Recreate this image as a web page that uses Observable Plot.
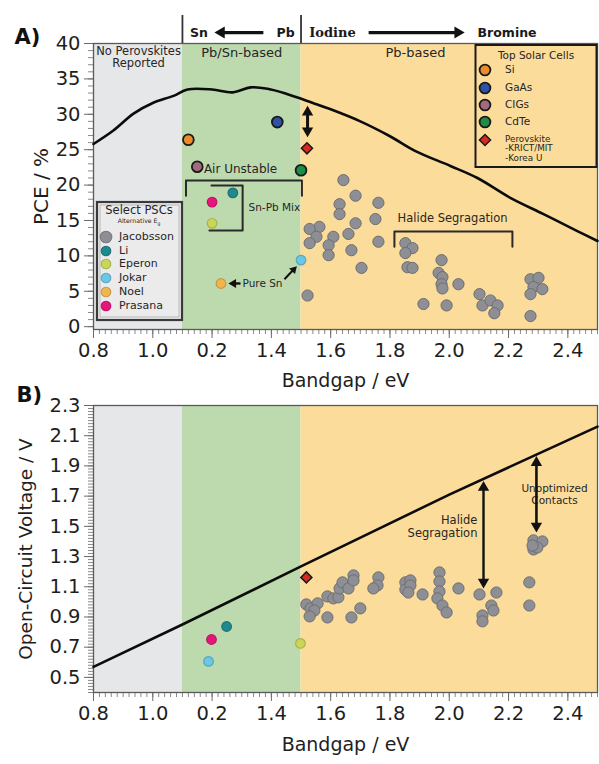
<!DOCTYPE html>
<html><head><meta charset="utf-8">
<script src="https://cdn.jsdelivr.net/npm/d3@7"></script>
<script src="https://cdn.jsdelivr.net/npm/@observablehq/plot@0.6"></script>
<style>
body{margin:0;background:#fff;}
#wrap{position:relative;width:599px;height:764px;overflow:hidden;}
#wrap svg{position:absolute;left:0;overflow:visible;}
</style></head><body><div id="wrap"></div>
<script>
// ---------- data ----------
const xTicks = [0.8, 1.0, 1.2, 1.4, 1.6, 1.8, 2.0, 2.2, 2.4];
const xTickLabels = ["0.8", "1.0", "0.2", "1.4", "1.6", "1.8", "2.0", "2.2", "2.4"];
const pceTicks = [0, 5, 10, 15, 20, 25, 30, 35, 40];
const vocTicks = [0.5, 0.7, 0.9, 1.1, 1.3, 1.5, 1.7, 1.9, 2.1, 2.3];

const regionStart = [0.8, 1.1, 1.5];
const regionEnd = [1.1, 1.5, 2.5];
const regionLabels = ["No Perovskites", "Reported", "Pb/Sn-based", "Pb-based"];

// Shockley-Queisser limits
const sqBandgap = [0.8, 0.867, 0.935, 1.0, 1.07, 1.117, 1.2, 1.27, 1.33, 1.387, 1.45, 1.54, 1.6, 1.7, 1.8, 1.886, 2.004, 2.095, 2.206, 2.318, 2.432, 2.5];
const sqPCE = [25.8, 27.7, 30.1, 31.6, 32.6, 33.5, 33.5, 33.1, 33.8, 33.6, 32.9, 31.6, 30.7, 29.0, 26.9, 24.8, 22.7, 21.0, 18.2, 15.9, 13.5, 12.1];
const vocBandgap = [0.8, 1.1, 1.5, 2.0, 2.5];
const vocLimit = [0.57, 0.85, 1.235, 1.71, 2.16];

// Top solar cells
const topCells = ["Si", "GaAs", "CIGs", "CdTe", "Perovskite"];
const topBandgap = [1.12, 1.42, 1.15, 1.50, 1.52];
const topPCE = [26.4, 28.9, 22.6, 22.1, 25.2];
const perovskiteVoc = [1.162];
const perovskiteBandgapB = [1.518];

// Alternative-bandgap PSCs
const pscNames = ["Jacobsson", "Li", "Eperon", "Jokar", "Noel", "Prasana"];
const altNamesA = ["Li", "Prasana", "Eperon", "Jokar", "Noel"];
const altBandgapA = [1.27, 1.20, 1.20, 1.50, 1.23];
const altPCE = [18.9, 17.6, 14.6, 9.4, 6.1];
const altNamesB = ["Li", "Prasana", "Jokar", "Eperon"];
const altBandgapB = [1.249, 1.198, 1.188, 1.498];
const altVoc = [0.837, 0.751, 0.606, 0.725];

// Jacobsson
const jBandgapA = [1.643,1.684,1.630,1.630,1.761,1.751,1.684,1.660,1.562,1.529,1.552,1.529,1.609,1.593,1.593,1.670,1.761,1.704,1.522,1.852,1.876,1.852,1.859,1.876,1.974,1.964,1.977,1.974,1.977,1.913,1.991,2.031,2.102,2.112,2.139,2.163,2.152,2.274,2.301,2.284,2.314,2.274,2.274];
const jPCE = [20.7,18.5,17.3,15.9,17.5,15.2,14.6,13.1,14.1,13.8,12.7,11.8,12.7,11.5,10.1,10.8,12.0,8.3,4.4,11.8,11.1,10.4,8.4,8.3,9.4,7.6,7.0,6.0,5.4,3.2,3.0,6.0,4.6,3.0,3.7,3.0,1.9,6.7,6.9,5.6,5.3,4.6,1.5];
const jBandgapB = [1.518,1.532,1.556,1.545,1.529,1.589,1.589,1.609,1.626,1.630,1.640,1.660,1.677,1.677,1.670,1.700,1.761,1.758,1.744,1.852,1.869,1.852,1.869,1.862,1.910,1.967,1.967,1.967,1.960,1.977,1.991,2.031,2.102,2.112,2.112,2.159,2.142,2.149,2.270,2.270,2.284,2.314,2.284,2.297,2.281];
const jVoc = [0.983,0.957,0.990,0.943,0.904,0.897,1.036,1.023,1.030,1.089,1.129,1.089,1.175,1.142,0.897,0.957,1.162,1.109,1.089,1.129,1.142,1.082,1.109,1.062,1.049,1.195,1.135,1.069,1.023,0.976,0.930,1.089,1.049,0.910,0.871,1.062,0.976,0.943,1.129,0.976,1.407,1.400,1.347,1.360,1.373];

// ---------- styles ----------
const font = "'DejaVu Sans', Verdana, sans-serif";
const regionColors = ["#e6e7e9", "#bdd9ae", "#fcdc9a"];
const topColors = {Si: "#ee8a2a", GaAs: "#2d52a8", CIGs: "#a46a82", CdTe: "#1d8d45", Perovskite: "#d8281f"};
const pscColors = {Jacobsson: "#8d8f94", Li: "#1f8a8e", Eperon: "#c9d65a", Jokar: "#6ac8e4", Noel: "#f1b54f", Prasana: "#e5157b"};
const W = 599, ML = 93, MR = 2;
const xDomain = [0.8, 2.5];
const kx = (W - ML - MR) / (xDomain[1] - xDomain[0]);
const txt = "#262626";

function arrowMarks(a, ky) {
  const dxp = (a.x2 - a.x1) * kx, dyp = -(a.y2 - a.y1) * ky;
  const L = Math.hypot(dxp, dyp), ux = dxp / L, uy = dyp / L;
  const yy = Math.sqrt(Math.PI * a.r * a.r / (Math.sqrt(3) * 3)), tip = 2 * yy;
  const rot = Math.atan2(ux, -uy) * 180 / Math.PI;
  const heads = [{x: a.x2 - ux * tip / kx, y: a.y2 + uy * tip / ky, rot}];
  let sx = a.x1, sy = a.y1;
  if (a.both) {
    sx = a.x1 + ux * tip / kx; sy = a.y1 - uy * tip / ky;
    heads.push({x: sx, y: sy, rot: rot + 180});
  }
  const shaft = [{x1: sx, y1: sy, x2: heads[0].x, y2: heads[0].y}];
  return [
    Plot.link(shaft, {x1: "x1", y1: "y1", x2: "x2", y2: "y2", stroke: "#111", strokeWidth: a.w}),
    Plot.dot(heads, {x: "x", y: "y", rotate: "rot", r: a.r, symbol: "triangle", fill: "#111", stroke: "none"})
  ];
}

function axes(yTicks, yMinor, yFmt) {
  const xMinor = d3.range(0, 86).map(i => 0.8 + i * 0.02);
  return [
    Plot.axisX({ticks: xMinor, tickSize: 5, tickFormat: () => "", stroke: "#8a8a8a", label: null}),
    Plot.axisX({ticks: xTicks, tickSize: 9, tickPadding: 5, fontSize: 19.5, fill: "#1e1e1e", stroke: "#6a6a6a",
      tickFormat: d => xTickLabels[xTicks.findIndex(t => Math.abs(t - d) < 1e-9)], label: null}),
    Plot.axisY({ticks: yMinor, tickSize: 5, tickFormat: () => "", stroke: "#8a8a8a", label: null}),
    Plot.axisY({ticks: yTicks, tickSize: 9, tickPadding: 4, fontSize: 19.5, fill: "#1e1e1e", stroke: "#6a6a6a",
      tickFormat: yFmt, label: null}),
    Plot.frame({stroke: "#5a5a5a", strokeWidth: 1.3})
  ];
}

const regionIdx = d3.range(regionStart.length);
const regionMark = Plot.rect(regionIdx, {x1: i => regionStart[i], x2: i => regionEnd[i], fill: i => regionColors[i]});

// ---------- Panel A ----------
const HA = 400, MTA = 43, MBA = 71;
const kyA = (HA - MTA - MBA) / 40.4;
const yA = py => 40 - (py - MTA) / kyA;
const idxJA = d3.range(jBandgapA.length);
const idxAltA = d3.range(altNamesA.length);
const idxTop = d3.range(4);

const bracketsA = [
  // Air Unstable
  {pts: [[1.112, 18.5], [1.112, 20.65], [1.503, 20.65], [1.503, 18.5]]},
  // Sn-Pb Mix
  {pts: [[1.198, 19.94], [1.303, 19.94], [1.303, 13.58], [1.191, 13.58]]},
  // Halide Segragation
  {pts: [[1.815, 11.3], [1.815, 13.44], [2.213, 13.44], [2.213, 11.3]]}
];
const bracketLines = bracketsA.flatMap((b, k) => b.pts.map(p => ({k, x: p[0], y: p[1]})));

const arrowsA = [
  {x1: 1.373, y1: 41.55, x2: 1.208, y2: 41.55, w: 3.2, r: 4.4},
  {x1: 1.728, y1: 41.55, x2: 2.052, y2: 41.55, w: 3.2, r: 4.4},
  {x1: 1.522, y1: 31.2, x2: 1.522, y2: 26.75, w: 3, r: 4.2, both: true},
  {x1: 1.296, y1: 6.1, x2: 1.255, y2: 6.1, w: 2.4, r: 3.3},
  {x1: 1.444, y1: 6.7, x2: 1.486, y2: 8.55, w: 2, r: 3}
];

const plotA = Plot.plot({
  width: W, height: HA, marginLeft: ML, marginRight: MR, marginTop: MTA, marginBottom: MBA,
  style: {fontFamily: font, background: "transparent", overflow: "visible"},
  x: {domain: xDomain, axis: null},
  y: {domain: [-0.4, 40], axis: null},
  marks: [
    regionMark,
    ...axes(pceTicks, d3.range(0, 41), d => String(d)),
    Plot.line(d3.range(sqBandgap.length), {x: i => sqBandgap[i], y: i => sqPCE[i], stroke: "#0c0c0c", strokeWidth: 2.6, curve: "catmull-rom"}),
    // header
    Plot.ruleX([1.1, 1.5], {y1: 40, y2: 43.96, stroke: "#333", strokeWidth: 1.8}),
    Plot.text(["Sn", "Pb", "Bromine"], {x: [1.156, 1.448, 2.195], y: 41.55, text: d => d, fontSize: 12.5, fontWeight: "bold", fill: "#1a1a1a"}),
    Plot.text(["Iodine"], {x: 1.606, y: 41.55, text: d => d, fontSize: 13, fontWeight: "bold", fontFamily: "'DejaVu Serif', serif", fill: "#1a1a1a"}),
    // region labels
    Plot.text([regionLabels[0], regionLabels[1]], {x: 0.952, y: [yA(50.5), yA(63)], text: d => d, fontSize: 11.5, fill: txt}),
    Plot.text([regionLabels[2], regionLabels[3]], {x: [1.3, 1.886], y: yA(52), text: d => d, fontSize: 13, fill: txt}),
    // brackets
    Plot.line(bracketLines, {x: "x", y: "y", z: "k", stroke: "#2a2a2a", strokeWidth: 2, curve: "linear"}),
    Plot.text(["Air Unstable"], {x: 1.296, y: 22.2, text: d => d, fontSize: 12, fill: txt}),
    Plot.text(["Sn-Pb Mix"], {x: 1.323, y: 16.83, text: d => d, fontSize: 10.5, textAnchor: "start", fill: txt}),
    Plot.text(["Pure Sn"], {x: 1.3026, y: 6.1, text: d => d, fontSize: 10.5, textAnchor: "start", fill: txt}),
    Plot.text(["Halide Segragation"], {x: 2.011, y: 15.28, text: d => d, fontSize: 11.5, fill: txt}),
    ...arrowsA.flatMap(a => arrowMarks(a, kyA)),
    // points
    Plot.dot(idxJA, {x: i => jBandgapA[i], y: i => jPCE[i], r: 5.6, fill: pscColors.Jacobsson, stroke: "#6c6e72", strokeWidth: 1}),
    Plot.dot(idxAltA, {x: i => altBandgapA[i], y: i => altPCE[i], r: 4.8, fill: i => pscColors[altNamesA[i]], stroke: i => d3.color(pscColors[altNamesA[i]]).darker(0.5).formatHex(), strokeWidth: 1.2}),
    Plot.dot(idxTop, {x: i => topBandgap[i], y: i => topPCE[i], r: 5.4, fill: i => topColors[topCells[i]], stroke: "#1a1a1a", strokeWidth: 1.8}),
    Plot.dot([4], {x: i => topBandgap[i], y: i => topPCE[i], r: 5, symbol: "diamond2", fill: topColors.Perovskite, stroke: "#1a1a1a", strokeWidth: 1.5}),
    // labels
    Plot.text(["PCE / %"], {frameAnchor: "left", rotate: -90, dx: -52, textAnchor: "middle", text: d => d, fontSize: 20, fill: "#1e1e1e"}),
    Plot.text(["Bandgap / eV"], {frameAnchor: "bottom", dy: 57, text: d => d, fontSize: 19, fill: "#1e1e1e"}),
    Plot.text(["A)"], {frameAnchor: "top-left", dx: -79, dy: -14, text: d => d, textAnchor: "start", fontSize: 21, fontWeight: "bold", fill: "#111"})
  ]
});
plotA.style.top = "0px";

// ---------- Panel B ----------
const TOPB = 370, HB = 394, MTB = 35, MBB = 72;
const kyB = (HB - MTB - MBB) / 1.9;
const idxJB = d3.range(jBandgapB.length);
const idxAltB = d3.range(altNamesB.length);
const arrowsB = [
  {x1: 2.1155, y1: 1.80, x2: 2.1155, y2: 1.088, w: 2.4, r: 4.2, both: true},
  {x1: 2.294, y1: 1.965, x2: 2.294, y2: 1.459, w: 2.6, r: 4.2, both: true}
];
const plotB = Plot.plot({
  width: W, height: HB, marginLeft: ML, marginRight: MR, marginTop: MTB, marginBottom: MBB,
  style: {fontFamily: font, background: "transparent", overflow: "visible"},
  x: {domain: xDomain, axis: null},
  y: {domain: [0.4, 2.3], axis: null},
  marks: [
    regionMark,
    ...axes(vocTicks, d3.range(0, 96).map(i => 0.4 + i * 0.02), d => d.toFixed(1)),
    Plot.line(d3.range(vocBandgap.length), {x: i => vocBandgap[i], y: i => vocLimit[i], stroke: "#0c0c0c", strokeWidth: 2.6}),
    Plot.text(["Halide\nSegragation"], {x: 2.095, y: 1.502, text: d => d, textAnchor: "end", lineHeight: 1.13, fontSize: 11.5, fill: txt}),
    Plot.text(["Unoptimized\nContacts"], {x: 2.355, y: 1.714, text: d => d, lineHeight: 1.2, fontSize: 10.5, fill: txt}),
    ...arrowsB.flatMap(a => arrowMarks(a, kyB)),
    Plot.dot(idxJB, {x: i => jBandgapB[i], y: i => jVoc[i], r: 5.6, fill: pscColors.Jacobsson, stroke: "#6c6e72", strokeWidth: 1}),
    Plot.dot(idxAltB, {x: i => altBandgapB[i], y: i => altVoc[i], r: 4.8, fill: i => pscColors[altNamesB[i]], stroke: i => d3.color(pscColors[altNamesB[i]]).darker(0.5).formatHex(), strokeWidth: 1.2}),
    Plot.dot([0], {x: i => perovskiteBandgapB[i], y: i => perovskiteVoc[i], r: 5, symbol: "diamond2", fill: topColors.Perovskite, stroke: "#1a1a1a", strokeWidth: 1.5}),
    Plot.text(["Open-Circuit Voltage / V"], {frameAnchor: "left", rotate: -90, dx: -67, textAnchor: "middle", text: d => d, fontSize: 18.5, fill: "#1e1e1e"}),
    Plot.text(["Bandgap / eV"], {frameAnchor: "bottom", dy: 58, text: d => d, fontSize: 19, fill: "#1e1e1e"}),
    Plot.text(["B)"], {frameAnchor: "top-left", dx: -77, dy: -18, text: d => d, textAnchor: "start", fontSize: 21, fontWeight: "bold", fill: "#111"})
  ]
});
plotB.style.top = TOPB + "px";

const wrap = document.getElementById("wrap");
wrap.appendChild(plotA);
wrap.appendChild(plotB);

// ---------- Legends (overlay on panel A) ----------
const leg = d3.select(wrap).append("svg")
  .attr("width", W).attr("height", 400)
  .style("top", "0px").style("pointer-events", "none")
  .attr("font-family", font).attr("fill", txt);

// Top Solar Cells legend
const tl = leg.append("g");
tl.append("rect").attr("x", 475.5).attr("y", 45).attr("width", 121).attr("height", 122)
  .attr("fill", "none").attr("stroke", "#1a1a1a").attr("stroke-width", 2);
tl.append("text").attr("x", 536).attr("y", 56).attr("text-anchor", "middle").attr("dominant-baseline", "middle")
  .attr("font-size", 10.5).text("Top Solar Cells");
const topRowY = [70, 88, 105, 122];
topCells.slice(0, 4).forEach((n, i) => {
  tl.append("circle").attr("cx", 485).attr("cy", topRowY[i]).attr("r", 5.4)
    .attr("fill", topColors[n]).attr("stroke", "#1a1a1a").attr("stroke-width", 1.8);
  tl.append("text").attr("x", 505).attr("y", topRowY[i]).attr("dominant-baseline", "middle")
    .attr("font-size", 10.5).text(n);
});
tl.append("path").attr("d", d3.symbol(d3.symbolDiamond2, Math.PI * 25)())
  .attr("transform", "translate(485,140)").attr("fill", topColors.Perovskite)
  .attr("stroke", "#1a1a1a").attr("stroke-width", 1.5);
["Perovskite", "-KRICT/MIT", "-Korea U"].forEach((s, i) => {
  tl.append("text").attr("x", 505).attr("y", 139 + i * 9.6).attr("dominant-baseline", "middle")
    .attr("font-size", 8.8).text(s);
});

// Select PSCs legend
const sl = leg.append("g");
sl.append("rect").attr("x", 97).attr("y", 202).attr("width", 85).attr("height", 118)
  .attr("fill", "#ebebec").attr("stroke", "#3a3a3a").attr("stroke-width", 2.2);
sl.append("rect").attr("x", 100).attr("y", 205).attr("width", 79).attr("height", 112)
  .attr("fill", "none").attr("stroke", "#b8b8b8").attr("stroke-width", 1);
sl.append("text").attr("x", 139).attr("y", 210.5).attr("text-anchor", "middle").attr("dominant-baseline", "middle")
  .attr("font-size", 11.5).text("Select PSCs");
const alt = sl.append("text").attr("x", 139).attr("y", 221.5).attr("text-anchor", "middle")
  .attr("dominant-baseline", "middle").attr("font-size", 6.2).text("Alternative E");
alt.append("tspan").attr("font-size", 4.5).attr("dy", 2).text("g");
const pscRowY = [237, 251, 264, 278, 292, 306];
pscNames.forEach((n, i) => {
  sl.append("circle").attr("cx", 106).attr("cy", pscRowY[i]).attr("r", i === 0 ? 5.8 : 4.8)
    .attr("fill", pscColors[n]).attr("stroke", d3.color(pscColors[n]).darker(0.5).formatHex()).attr("stroke-width", 1.1);
  sl.append("text").attr("x", 119).attr("y", pscRowY[i]).attr("dominant-baseline", "middle")
    .attr("font-size", 11).text(n);
});
</script></body></html>
